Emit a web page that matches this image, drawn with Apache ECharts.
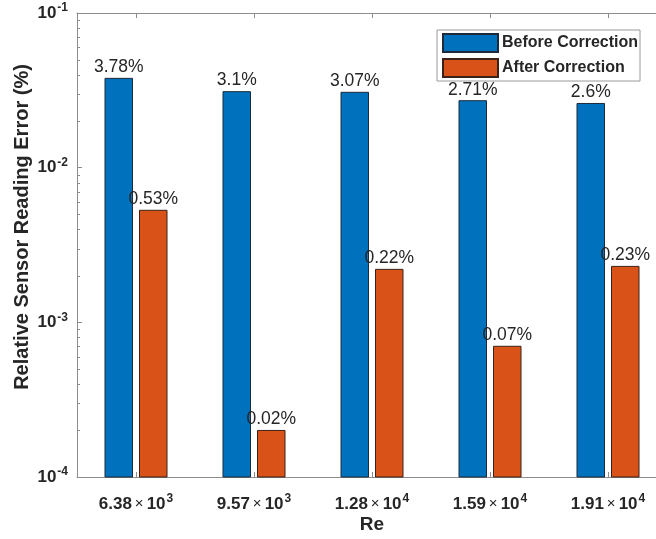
<!DOCTYPE html>
<html>
<head>
<meta charset="utf-8">
<title>Relative Sensor Reading Error</title>
<script src="https://cdn.jsdelivr.net/npm/echarts@6/dist/echarts.min.js"></script>
<style>
  html, body { margin: 0; padding: 0; background: #fff; }
  #chart { width: 656px; height: 539px; }
</style>
</head>
<body>
<div id="chart"></div>
<script>
// Reynolds numbers (mantissa x 10^exponent) used as categories
const reMantissa = ['6.38', '9.57', '1.28', '1.59', '1.91'];
const reExponent = [3, 3, 4, 4, 4];

// Relative reading error (fraction, shown as %)
const beforeCorrection = [0.0378, 0.031, 0.0307, 0.0271, 0.026];
const afterCorrection = [0.0053, 0.0002, 0.0022, 0.0007, 0.0023];

// Log axis range, decades and minor tick multipliers
const Y_MIN = 0.0001;
const Y_MAX = 0.1;
const yDecades = [0.0001, 0.001, 0.01];
const minorMultipliers = [2, 3, 4, 5, 6, 7, 8, 9];

const categories = reMantissa.map((m, i) => m + '|' + reExponent[i]);
const minorTicks = [];
yDecades.forEach(d => minorMultipliers.forEach(k => minorTicks.push([0, d * k])));

const FONT = '"Liberation Sans", Arial, Helvetica, sans-serif';
const TEXT = '#262626';
const AXIS = '#8c8c8c';
const BAR_W = 27.5;
const BAR_GAP = 7;

const supRich = {
  b: { fontSize: 17, fontWeight: 'bold', color: TEXT, fontFamily: FONT, lineHeight: 22 },
  m: { fontSize: 15, fontWeight: 'normal', color: TEXT, fontFamily: FONT, lineHeight: 22, padding: [0, 3, 0, 3] },
  s: { fontSize: 12, fontWeight: 'bold', color: TEXT, fontFamily: FONT, lineHeight: 12, verticalAlign: 'top', padding: [0, 0, 0, 1] }
};

const pct = v => +(v * 100).toFixed(2) + '%';

// Bars are drawn from the bottom of the log axis (Y_MIN) up to the value,
// with the percentage printed just above each bar.
function barRenderer(offset) {
  return (params, api) => {
    const idx = api.value(0);
    const v = api.value(1);
    const top = api.coord([idx, v]);
    const bottom = api.coord([idx, Y_MIN]);
    const cx = top[0] + offset;
    const style = api.style();
    return {
      type: 'group',
      children: [
        {
          type: 'rect',
          shape: { x: cx - BAR_W / 2, y: top[1], width: BAR_W, height: bottom[1] - top[1] },
          style: { fill: style.fill, stroke: style.stroke, lineWidth: 1 }
        },
        {
          type: 'text',
          style: {
            text: pct(v),
            x: cx,
            y: top[1] - 2,
            align: 'center',
            verticalAlign: 'bottom',
            fill: TEXT,
            font: 'normal 17.5px ' + FONT
          }
        }
      ]
    };
  };
}

const chart = echarts.init(document.getElementById('chart'), null, { renderer: 'canvas' });

chart.setOption({
  animation: false,
  backgroundColor: '#ffffff',
  textStyle: { fontFamily: FONT },
  grid: { left: 77, right: -11, top: 13, bottom: 62, containLabel: false, outerBoundsMode: 'none' },
  legend: {
    data: ['Before Correction', 'After Correction'],
    orient: 'vertical',
    left: 437,
    top: 30,
    padding: [3, 2, 3, 5],
    itemWidth: 55,
    itemHeight: 18,
    itemGap: 5,
    backgroundColor: '#ffffff',
    borderColor: '#9a9a9a',
    borderWidth: 1,
    borderRadius: 0,
    selectedMode: false,
    icon: 'rect',
    z: 20,
    textStyle: { fontSize: 16, fontWeight: 'bold', color: TEXT, fontFamily: FONT, padding: [0, 0, 0, -1] }
  },
  xAxis: [
    {
      type: 'category',
      data: categories,
      position: 'bottom',
      boundaryGap: true,
      name: 'Re',
      nameLocation: 'middle',
      nameGap: 38,
      nameMoveOverlap: false,
      nameTextStyle: { fontSize: 19, fontWeight: 'bold', color: TEXT, fontFamily: FONT },
      axisLine: { show: true, lineStyle: { color: AXIS, width: 1 } },
      axisTick: { show: true, inside: true, length: 5, alignWithLabel: true, interval: 0, lineStyle: { color: AXIS } },
      axisLabel: {
        margin: 16,
        interval: 0,
        hideOverlap: false,
        formatter: v => {
          const [m, e] = v.split('|');
          return '{b|' + m + '}{m|×}{b|10}{s|' + e + '}';
        },
        rich: supRich
      },
      splitLine: { show: false }
    },
    {
      type: 'category',
      data: categories,
      position: 'top',
      boundaryGap: true,
      axisLine: { show: true, lineStyle: { color: AXIS, width: 1 } },
      axisTick: { show: true, inside: true, length: 5, alignWithLabel: true, interval: 0, lineStyle: { color: AXIS } },
      axisLabel: { show: false },
      splitLine: { show: false }
    }
  ],
  yAxis: {
    type: 'log',
    logBase: 10,
    min: Y_MIN,
    max: Y_MAX,
    splitNumber: 3,
    name: 'Relative Sensor Reading Error (%)',
    nameLocation: 'middle',
    nameGap: 45,
    nameMoveOverlap: false,
    nameRotate: 90,
    nameTextStyle: { fontSize: 20, fontWeight: 'bold', color: TEXT, fontFamily: FONT, padding: [0, 0, 0, 36] },
    axisLine: { show: true, lineStyle: { color: AXIS, width: 1 } },
    axisTick: { show: true, inside: true, length: 5, lineStyle: { color: AXIS } },
    axisLabel: {
      margin: 9,
      formatter: v => '{b|10}{s|' + Math.round(Math.log10(v)) + '}',
      rich: supRich
    },
    splitLine: { show: false }
  },
  series: [
    {
      name: 'Before Correction',
      type: 'custom',
      xAxisIndex: 0,
      encode: { x: 0, y: 1 },
      data: beforeCorrection.map((v, i) => [i, v]),
      itemStyle: { color: '#0072BD', borderColor: '#1d2a3a', borderWidth: 1 },
      clip: false,
      z: 2,
      renderItem: barRenderer(-(BAR_W + BAR_GAP) / 2)
    },
    {
      name: 'After Correction',
      type: 'custom',
      xAxisIndex: 0,
      encode: { x: 0, y: 1 },
      data: afterCorrection.map((v, i) => [i, v]),
      itemStyle: { color: '#D95319', borderColor: '#3a2218', borderWidth: 1 },
      clip: false,
      z: 2,
      renderItem: barRenderer((BAR_W + BAR_GAP) / 2)
    },
    {
      // minor ticks of the log axis
      name: 'minor',
      type: 'custom',
      silent: true,
      clip: false,
      z: 10,
      encode: { x: 0, y: 1 },
      data: minorTicks,
      renderItem: (params, api) => {
        const y = Math.round(api.coord([0, api.value(1)])[1]) + 0.5;
        const x0 = params.coordSys.x;
        return {
          type: 'line',
          shape: { x1: x0, y1: y, x2: x0 + 3, y2: y },
          style: { stroke: AXIS, lineWidth: 1 }
        };
      }
    }
  ]
});
</script>
</body>
</html>
